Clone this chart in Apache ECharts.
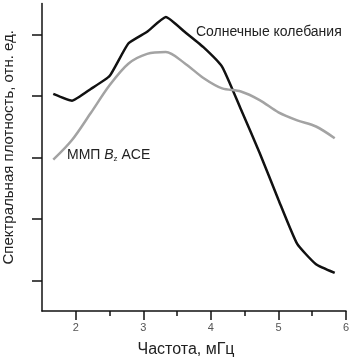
<!DOCTYPE html>
<html>
<head>
<meta charset="utf-8">
<script src="https://cdn.jsdelivr.net/npm/echarts@6/dist/echarts.min.js"></script>
<style>
  html, body { margin: 0; padding: 0; background: #fff; }
  #chart { width: 363px; height: 359px; }
</style>
</head>
<body>
<div id="chart"></div>
<script>
// частоты, мГц (шаг 1/3.6 мГц)
const freqs = [1.667, 1.944, 2.222, 2.5, 2.778, 3.056, 3.333, 3.611, 3.889, 4.167, 4.444, 4.722, 5.0, 5.278, 5.556, 5.833]
// спектральная плотность, отн. ед.
const solarValues = [4.03, 3.92, 4.11, 4.32, 4.85, 5.04, 5.28, 5.04, 4.79, 4.47, 3.78, 3.07, 2.31, 1.59, 1.26, 1.12]
const imfValues = [2.96, 3.28, 3.72, 4.17, 4.52, 4.68, 4.71, 4.53, 4.29, 4.12, 4.07, 3.93, 3.73, 3.60, 3.50, 3.31]
const xMajorTicks = [2, 3, 4, 5, 6]
const xMinorTicks = [2.5, 3.5, 4.5, 5.5]
const yTicks = [1, 2, 3, 4, 5]

const font = 'Liberation Sans, Arial, sans-serif'
const pairs = vals => freqs.map((f, i) => [f, vals[i]])

const chart = echarts.init(document.getElementById('chart'))

chart.setOption({
  animation: false,
  grid: { left: 42, right: 17, top: 3.5, bottom: 48, outerBoundsMode: 'none', containLabel: false },
  xAxis: [{
    type: 'value',
    min: 1.5,
    max: 6,
    name: 'Частота, мГц',
    nameLocation: 'middle',
    nameGap: 31,
    nameTextStyle: { fontFamily: font, fontSize: 16, color: '#222', padding: [0, 16, 0, 0] },
    axisLine: { lineStyle: { color: '#111', width: 1.5 } },
    axisTick: { customValues: xMajorTicks, length: 9, lineStyle: { color: '#111', width: 1.5 } },
    axisLabel: { customValues: xMajorTicks, fontFamily: font, fontSize: 11, color: '#555', margin: 11 },
    splitLine: { show: false }
  }, {
    // вспомогательная ось для коротких делений
    type: 'value',
    position: 'bottom',
    min: 1.5,
    max: 6,
    axisLine: { show: false },
    axisTick: { customValues: xMinorTicks, length: 5, lineStyle: { color: '#111', width: 1.5 } },
    axisLabel: { show: false },
    splitLine: { show: false }
  }],
  yAxis: {
    type: 'value',
    min: 0.5,
    max: 5.5,
    name: 'Спектральная плотность, отн. ед.',
    nameLocation: 'middle',
    nameGap: 26,
    nameTextStyle: { fontFamily: font, fontSize: 15, color: '#222', padding: [0, 0, 0, 20] },
    axisLine: { show: true, lineStyle: { color: '#111', width: 1.5 } },
    axisTick: { show: true, customValues: yTicks, length: 10, lineStyle: { color: '#111', width: 1.5 } },
    axisLabel: { show: false },
    splitLine: { show: false }
  },
  series: [{
    name: 'Солнечные колебания',
    type: 'line',
    data: pairs(solarValues),
    showSymbol: false,
    smooth: 0.15,
    lineStyle: { color: '#111', width: 2.5 }
  }, {
    name: 'ММП Bz ACE',
    type: 'line',
    data: pairs(imfValues),
    showSymbol: false,
    smooth: 0.3,
    lineStyle: { color: '#a3a3a3', width: 2.5 }
  }],
  graphic: [{
    type: 'text',
    left: 196,
    top: 25,
    style: { text: 'Солнечные колебания', fontFamily: font, fontSize: 14, fill: '#222' }
  }, {
    type: 'text',
    left: 67,
    top: 148,
    style: {
      text: 'ММП {b|B}{z|z} ACE',
      fontFamily: font,
      fontSize: 14,
      fill: '#222',
      rich: {
        b: { fontFamily: font, fontSize: 14, fontStyle: 'italic', fill: '#222' },
        z: { fontFamily: font, fontSize: 8, fill: '#222', padding: [8, 0, 0, 0] }
      }
    }
  }]
})
</script>
</body>
</html>
